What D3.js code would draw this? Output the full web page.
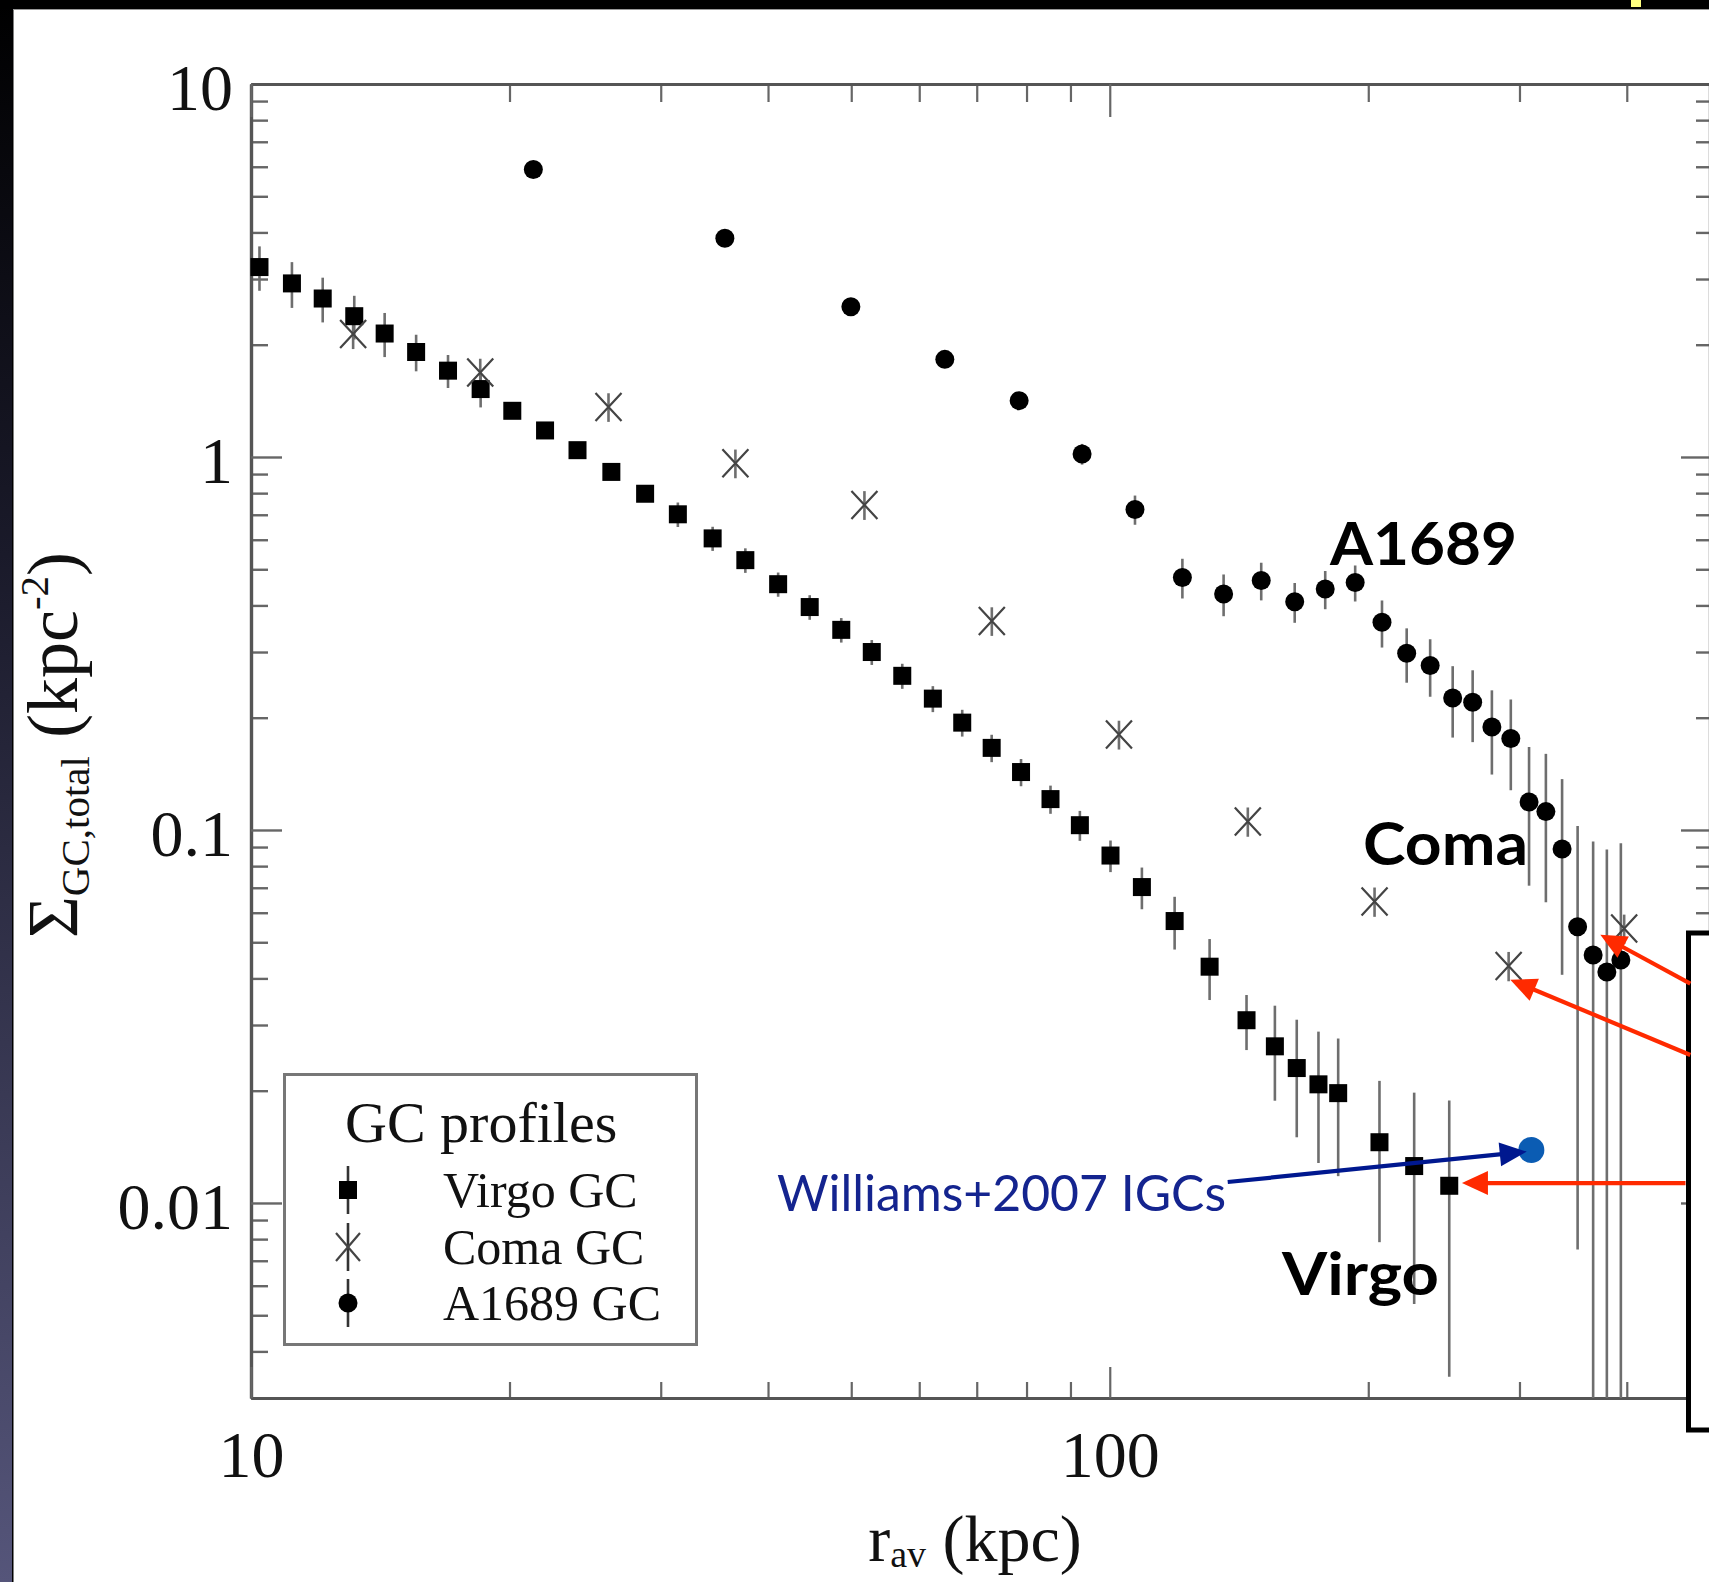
<!DOCTYPE html>
<html><head><meta charset="utf-8">
<script src="https://cdn.jsdelivr.net/npm/d3@7"></script>
<style>html,body{margin:0;padding:0;background:#fff;overflow:hidden}</style>
</head><body>
<svg id="c" width="1709" height="1582"></svg>
<script>
// ---------------- data ----------------
const virgoR = [10.23, 11.16, 12.12, 13.19, 14.31, 15.57, 16.96, 18.51, 20.15, 22.0, 24.0, 26.28, 28.77, 31.41, 34.48, 37.64, 41.10, 44.73, 48.68, 52.83, 57.33, 62.23, 67.33, 72.86, 78.83, 85.31, 92.3, 100.2, 109.0, 119.0, 130.7, 144.3, 155.7, 165.1, 175.0, 184.5, 206.1, 226.2, 248.5];
const virgoV = [3.23, 2.92, 2.66, 2.385, 2.143, 1.912, 1.704, 1.521, 1.330, 1.178, 1.043, 0.912, 0.797, 0.702, 0.605, 0.529, 0.456, 0.396, 0.344, 0.300, 0.259, 0.225, 0.194, 0.166, 0.143, 0.121, 0.103, 0.0854, 0.0703, 0.0570, 0.0430, 0.0309, 0.0263, 0.0230, 0.0208, 0.0197, 0.01455, 0.01256, 0.01112];
const virgoErr = [0.44, 0.41, 0.365, 0.32, 0.29, 0.215, 0.173, 0.163, 0.06, 0.053, 0.047, 0.041, 0.036, 0.053, 0.045, 0.04, 0.034, 0.03, 0.026, 0.023, 0.02, 0.018, 0.016, 0.014, 0.012, 0.0105, 0.0095, 0.0083, 0.009, 0.0092, 0.008, 0.0052, 0.0075, 0.008, 0.008, 0.0079, 0.0067, 0.0072, 0.0077];

const comaR = [13.15, 18.49, 26.08, 36.65, 51.80, 72.89, 102.5, 144.8, 203.4, 291.4, 397.2];
const comaV = [2.137, 1.684, 1.362, 0.962, 0.744, 0.3634, 0.1803, 0.1054, 0.0643, 0.0432, 0.0544];
const comaErr = [0.19, 0.15, 0.12, 0.085, 0.066, 0.032, 0.016, 0.0095, 0.0058, 0.0039, 0.0049];

const a1689R = [21.32, 35.63, 49.95, 64.26, 78.43, 92.85, 107.0, 121.5, 135.7, 150.1, 164.2, 178.2, 193.1, 207.5, 221.7, 236.1, 250.8, 264.6, 278.6, 293.1, 307.8, 322.0, 336.3, 350.6, 365.5, 379.2, 393.7];
const a1689V = [5.90, 3.858, 2.529, 1.827, 1.416, 1.019, 0.7231, 0.4755, 0.4292, 0.4666, 0.4093, 0.4427, 0.4608, 0.3604, 0.2977, 0.2761, 0.2259, 0.2200, 0.1888, 0.1758, 0.1189, 0.1120, 0.0889, 0.0550, 0.0462, 0.0416, 0.0448];
const a1689Err = [0.06, 0.06, 0.06, 0.06, 0.06, 0.065, 0.065, 0.058, 0.055, 0.054, 0.05, 0.052, 0.051, 0.052, 0.0495, 0.0485, 0.049, 0.048, 0.048, 0.048, 0.048, 0.048, 0.048, 0.0475, 0.047, 0.0471, 0.0473];

const williamsR = [309.7];
const williamsV = [0.01387];

const xMajorTicks = [10, 100];
const xMinorTicks = [20, 30, 40, 50, 60, 70, 80, 90, 200, 300, 400, 500];
const yMajorTicks = [0.01, 0.1, 1, 10];
const yMinorTicks = [0.003, 0.004, 0.005, 0.006, 0.007, 0.008, 0.009, 0.02, 0.03, 0.04, 0.05, 0.06, 0.07, 0.08, 0.09, 0.2, 0.3, 0.4, 0.5, 0.6, 0.7, 0.8, 0.9, 2, 3, 4, 5, 6, 7, 8, 9];

const legendTitle = "GC profiles";
const legendLabels = ["Virgo GC", "Coma GC", "A1689 GC"];

// annotation arrows in data space: [r0, v0, r1, v1]
const redArrows = [
  [474.3, 0.03875, 372.6, 0.05236],
  [474.3, 0.02493, 292.7, 0.03968],
  [468.2, 0.01131, 257.1, 0.01131]
];
const blueArrow = [137.2, 0.01138, 305.9, 0.01373];

// ---------------- setup ----------------
const svg = d3.select("#c");
const x = d3.scaleLog().domain([10, 500]).range([251, 1710]);
const y = d3.scaleLog().domain([0.003, 10]).range([1398, 84]);
const yMin = y.domain()[0];

// frame decorations (presentation background)
const defs = svg.append("defs");
const lg = defs.append("linearGradient").attr("id", "strip").attr("x1", 0).attr("y1", 0).attr("x2", 0).attr("y2", 1);
lg.append("stop").attr("offset", "0%").attr("stop-color", "#000");
lg.append("stop").attr("offset", "35%").attr("stop-color", "#1a1a2a");
lg.append("stop").attr("offset", "100%").attr("stop-color", "#55557a");
svg.append("rect").attr("x", 0).attr("y", 0).attr("width", 12).attr("height", 1582).attr("fill", "url(#strip)");
svg.append("rect").attr("x", 12).attr("y", 0).attr("width", 1.5).attr("height", 1582).attr("fill", "#000");
svg.append("rect").attr("x", 0).attr("y", 0).attr("width", 1709).attr("height", 9).attr("fill", "#000");
svg.append("rect").attr("x", 13).attr("y", 9).attr("width", 1696).attr("height", 1).attr("fill", "#999");
svg.append("rect").attr("x", 1631).attr("y", 0).attr("width", 10).attr("height", 7).attr("fill", "#ffff80");

// ---------------- axes ----------------
const tickColor = "#666";
const serif = "'Liberation Serif', 'Times New Roman', serif";
function styleAxis(g, width) {
  g.selectAll(".domain").attr("stroke", "#555").attr("stroke-width", 3.2);
  g.selectAll(".tick line").attr("stroke", tickColor).attr("stroke-width", width);
  g.selectAll(".tick text").attr("font-family", serif).attr("font-size", 66).attr("fill", "#111");
}
// left
const gL1 = svg.append("g").attr("transform", `translate(${x.range()[0]},0)`)
  .call(d3.axisLeft(y).tickValues(yMinorTicks).tickSizeInner(-17).tickSizeOuter(0).tickFormat(""));
styleAxis(gL1, 2.4);
const gL2 = svg.append("g").attr("transform", `translate(${x.range()[0]},0)`)
  .call(d3.axisLeft(y).tickValues(yMajorTicks).tickSizeInner(-31).tickSizeOuter(0).tickPadding(18).tickFormat(d => String(d)));
styleAxis(gL2, 2.4);
gL2.selectAll(".tick text").attr("dy", "0.39em");
// right
const gR1 = svg.append("g").attr("transform", `translate(${x.range()[1]},0)`)
  .call(d3.axisRight(y).tickValues(yMinorTicks).tickSizeInner(-14).tickSizeOuter(0).tickFormat(""));
styleAxis(gR1, 2.4);
const gR2 = svg.append("g").attr("transform", `translate(${x.range()[1]},0)`)
  .call(d3.axisRight(y).tickValues(yMajorTicks).tickSizeInner(-29).tickSizeOuter(0).tickFormat(""));
styleAxis(gR2, 2.4);
// bottom
const gB1 = svg.append("g").attr("transform", `translate(0,${y.range()[0]})`)
  .call(d3.axisBottom(x).tickValues(xMinorTicks).tickSizeInner(-16).tickSizeOuter(0).tickFormat(""));
styleAxis(gB1, 2.2);
const gB2 = svg.append("g").attr("transform", `translate(0,${y.range()[0]})`)
  .call(d3.axisBottom(x).tickValues(xMajorTicks).tickSizeInner(-31).tickSizeOuter(0).tickPadding(79).tickFormat(d => String(d)));
styleAxis(gB2, 2.2);
gB2.selectAll(".tick text").attr("dy", "0em");
// top
const gT1 = svg.append("g").attr("transform", `translate(0,${y.range()[1]})`)
  .call(d3.axisTop(x).tickValues(xMinorTicks).tickSizeInner(-18).tickSizeOuter(0).tickFormat(""));
styleAxis(gT1, 2.2);
const gT2 = svg.append("g").attr("transform", `translate(0,${y.range()[1]})`)
  .call(d3.axisTop(x).tickValues(xMajorTicks).tickSizeInner(-33).tickSizeOuter(0).tickFormat(""));
styleAxis(gT2, 2.2);

// axis titles
const xt = svg.append("text").attr("x", 975).attr("y", 1561).attr("text-anchor", "middle")
  .attr("font-family", serif).attr("font-size", 66).attr("fill", "#111");
xt.append("tspan").text("r");
xt.append("tspan").attr("font-size", 38).attr("dy", 6).text("av");
xt.append("tspan").attr("dy", -6).text(" (kpc)");

const yt = svg.append("text").attr("transform", "translate(77,745) rotate(-90)").attr("text-anchor", "middle")
  .attr("font-family", serif).attr("font-size", 72).attr("fill", "#111");
yt.append("tspan").text("Σ");
yt.append("tspan").attr("font-size", 41).attr("dy", 12).text("GC,total");
yt.append("tspan").attr("dy", -12).text(" (kpc");
yt.append("tspan").attr("font-size", 41).attr("dy", -29).text("-2");
yt.append("tspan").attr("dy", 29).text(")");

// ---------------- data marks ----------------
const plot = svg.append("g");
function errBars(R, V, E) {
  const d = R.map((r, i) => ({ r, v: V[i], e: E[i] }));
  plot.append("g").selectAll("line").data(d).join("line")
    .attr("x1", p => x(p.r)).attr("x2", p => x(p.r))
    .attr("y1", p => y(p.v + p.e))
    .attr("y2", p => y(Math.max(p.v - p.e, yMin)))
    .attr("stroke", "#6e6e6e").attr("stroke-width", 2.6);
}
errBars(virgoR, virgoV, virgoErr);
errBars(comaR, comaV, comaErr);
errBars(a1689R, a1689V, a1689Err);

const sq = 18;
plot.append("g").selectAll("rect").data(virgoR.map((r, i) => ({ r, v: virgoV[i] }))).join("rect")
  .attr("x", p => x(p.r) - sq / 2).attr("y", p => y(p.v) - sq / 2)
  .attr("width", sq).attr("height", sq).attr("fill", "#000");

plot.append("g").selectAll("path").data(comaR.map((r, i) => ({ r, v: comaV[i] }))).join("path")
  .attr("transform", p => `translate(${x(p.r)},${y(p.v)})`)
  .attr("d", "M-13,-14L13,14M-13,14L13,-14")
  .attr("stroke", "#444").attr("stroke-width", 2.2).attr("fill", "none");

plot.append("g").selectAll("circle").data(a1689R.map((r, i) => ({ r, v: a1689V[i] }))).join("circle")
  .attr("cx", p => x(p.r)).attr("cy", p => y(p.v)).attr("r", 9.5).attr("fill", "#000");

// ---------------- legend ----------------
const leg = svg.append("g");
leg.append("rect").attr("x", 284.5).attr("y", 1074.5).attr("width", 412).attr("height", 270)
  .attr("fill", "#fff").attr("stroke", "#777").attr("stroke-width", 3);
leg.append("text").attr("x", 345).attr("y", 1142).attr("font-family", serif).attr("font-size", 58)
  .attr("fill", "#111").text(legendTitle);
const legY = [1190, 1247, 1303];
legendLabels.forEach((t, i) => {
  leg.append("text").attr("x", 443).attr("y", legY[i] + 17).attr("font-family", serif)
    .attr("font-size", 50).attr("fill", "#111").text(t);
  leg.append("line").attr("x1", 348).attr("x2", 348).attr("y1", legY[i] - 24).attr("y2", legY[i] + 24)
    .attr("stroke", "#333").attr("stroke-width", 2.6);
});
leg.append("rect").attr("x", 348 - 9).attr("y", legY[0] - 9).attr("width", 18).attr("height", 18).attr("fill", "#000");
leg.append("path").attr("transform", `translate(348,${legY[1]})`).attr("d", "M-12,-14L12,14M-12,14L12,-14")
  .attr("stroke", "#444").attr("stroke-width", 2.2);
leg.append("circle").attr("cx", 348).attr("cy", legY[2]).attr("r", 9.5).attr("fill", "#000");

// ---------------- annotations ----------------
const ann = svg.append("g");
ann.append("rect").attr("x", 1688.5).attr("y", 933).attr("width", 60).attr("height", 497)
  .attr("fill", "#fff").attr("stroke", "#000").attr("stroke-width", 5);

function arrow(a, color, width, headLen, headW) {
  const x0 = x(a[0]), y0 = y(a[1]), x1 = x(a[2]), y1 = y(a[3]);
  const ang = Math.atan2(y1 - y0, x1 - x0);
  const bx = x1 - headLen * Math.cos(ang), by = y1 - headLen * Math.sin(ang);
  ann.append("line").attr("x1", x0).attr("y1", y0).attr("x2", bx + 2 * Math.cos(ang)).attr("y2", by + 2 * Math.sin(ang))
    .attr("stroke", color).attr("stroke-width", width);
  const px = -Math.sin(ang) * headW, py = Math.cos(ang) * headW;
  ann.append("path").attr("d", `M${x1},${y1}L${bx + px},${by + py}L${bx - px},${by - py}Z`).attr("fill", color);
}
redArrows.forEach(a => arrow(a, "#ff2a00", 4.2, 26, 12));

ann.append("circle").attr("cx", x(williamsR[0])).attr("cy", y(williamsV[0])).attr("r", 13).attr("fill", "#0b5cb3");
arrow(blueArrow, "#00188f", 4.2, 27, 12);

const sans = "Lato, 'Open Sans', sans-serif";
ann.append("text").attr("x", 777).attr("y", 1211).attr("font-family", sans).attr("font-size", 51)
  .attr("textLength", 449).attr("lengthAdjust", "spacingAndGlyphs")
  .attr("fill", "#14248f").text("Williams+2007 IGCs");
ann.append("text").attr("x", 1330).attr("y", 565).attr("font-family", sans).attr("font-weight", 700)
  .attr("font-size", 59).attr("textLength", 187).attr("lengthAdjust", "spacingAndGlyphs")
  .attr("fill", "#000").text("A1689");
ann.append("text").attr("x", 1363).attr("y", 865).attr("font-family", sans).attr("font-weight", 700)
  .attr("font-size", 59).attr("textLength", 165).attr("lengthAdjust", "spacingAndGlyphs")
  .attr("fill", "#000").text("Coma");
ann.append("text").attr("x", 1282).attr("y", 1295).attr("font-family", sans).attr("font-weight", 700)
  .attr("font-size", 60).attr("textLength", 157).attr("lengthAdjust", "spacingAndGlyphs")
  .attr("fill", "#000").text("Virgo");
</script>
</body></html>
